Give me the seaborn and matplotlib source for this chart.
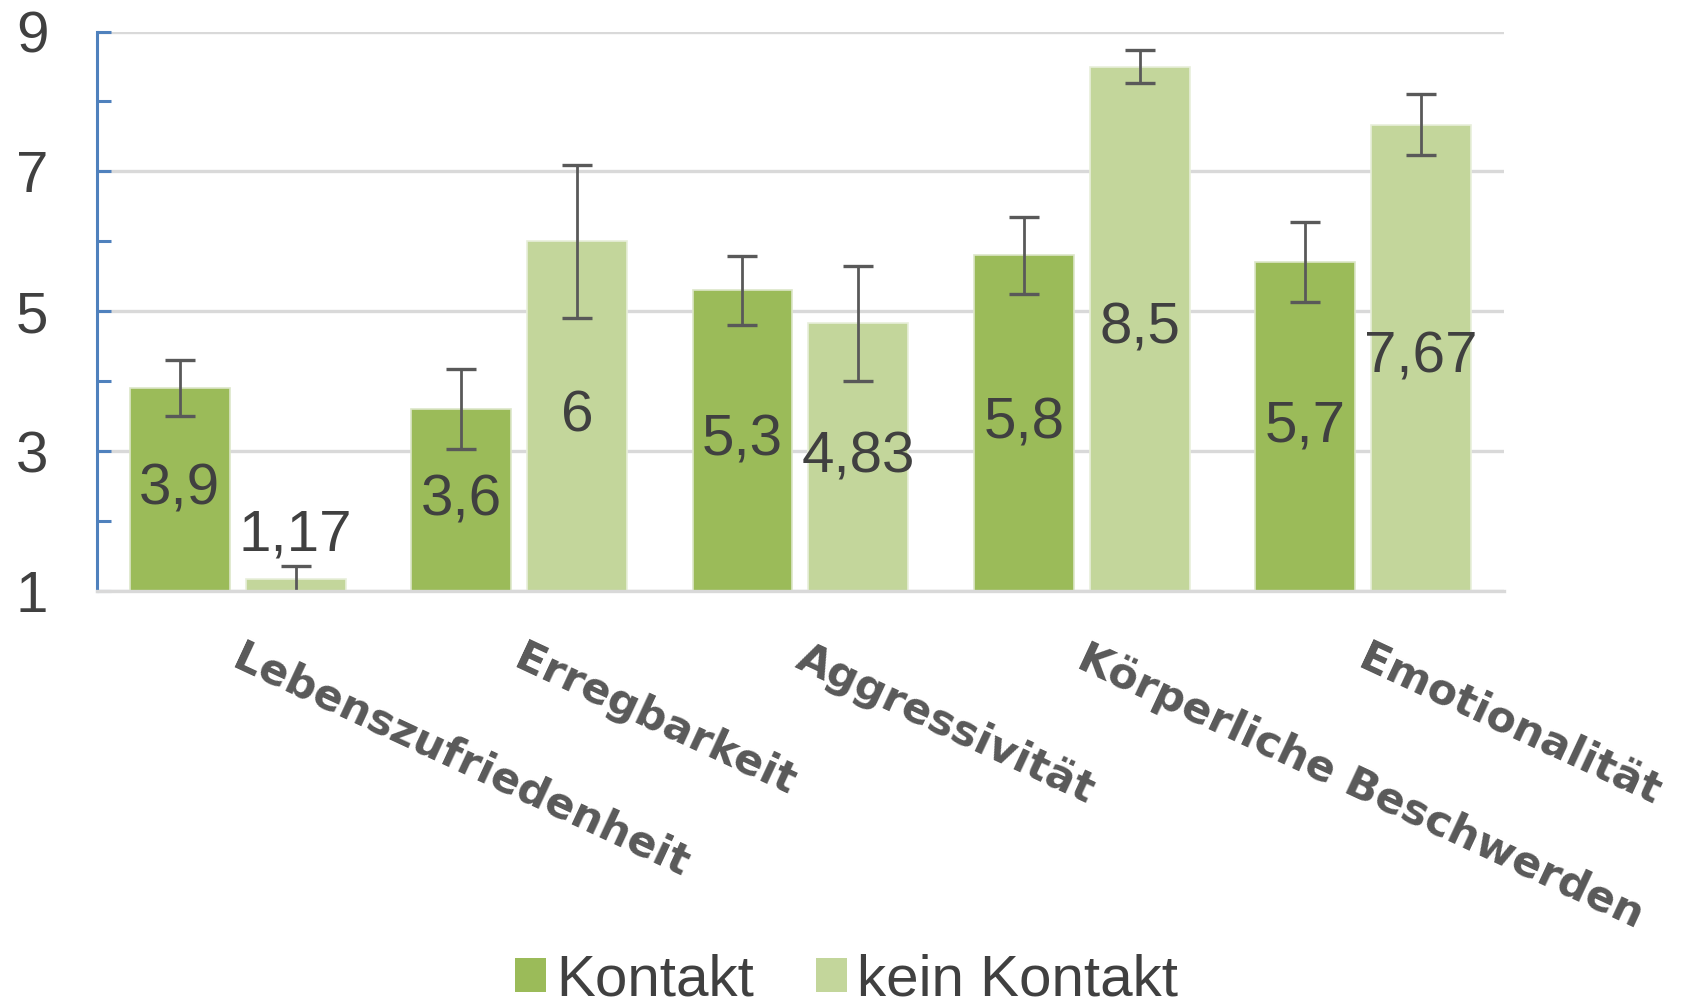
import numpy as np
import pandas as pd
import matplotlib
matplotlib.use("Agg")
import matplotlib.pyplot as plt
import matplotlib.transforms as mtransforms
import seaborn as sns

# ---- data ----
categories = ["Lebenszufriedenheit", "Erregbarkeit", "Aggressivität",
              "Körperliche Beschwerden", "Emotionalität"]
series_names = ["Kontakt", "kein Kontakt"]
kontakt = [3.9, 3.6, 5.3, 5.8, 5.7]
kein_kontakt = [1.17, 6.0, 4.83, 8.5, 7.67]
kontakt_err = [0.40, 0.57, 0.49, 0.55, 0.57]
kein_kontakt_err = [0.19, 1.09, 0.82, 0.23, 0.43]
y_ticks = [1, 3, 5, 7, 9]
y_minor = [2, 4, 6, 8]

colors = ["#9BBB59", "#C3D69B"]
edge_colors = ["#DCE6C8", "#E8EFDA"]

sns.set_theme(style="white")
plt.rcParams["font.family"] = ["Liberation Sans", "DejaVu Sans"]

df = pd.DataFrame({
    "Kategorie": categories * 2,
    "Wert": kontakt + kein_kontakt,
    "Gruppe": [series_names[0]] * len(categories) + [series_names[1]] * len(categories),
})

fig = plt.figure(figsize=(16.83, 10.08), dpi=100)
ax = fig.add_axes([0.0576, 0.4137, 0.8360, 0.5550])

sns.barplot(data=df, x="Kategorie", y="Wert", hue="Gruppe", order=categories,
            hue_order=series_names, palette=colors, saturation=1,
            width=0.824, gap=0.139, errorbar=None, ax=ax, legend=True)

ax.set_xlabel("")
ax.set_ylabel("")

# bar edges
for cont, ec in zip(ax.containers, edge_colors):
    for p in cont:
        p.set_edgecolor(ec)
        p.set_linewidth(1.2)

# error bars and value labels
ax.set_ylim(1, 9)
errs = [kontakt_err, kein_kontakt_err]
vals = [kontakt, kein_kontakt]
for cont, err, vv in zip(ax.containers, errs, vals):
    xs = [p.get_x() + p.get_width() / 2 for p in cont]
    ax.errorbar(xs, vv, yerr=err, fmt="none", ecolor="#595959",
                elinewidth=2.0, capsize=11, capthick=2.4, zorder=2)
    for x, v in zip(xs, vv):
        txt = f"{v:g}".replace(".", ",")
        lo = 1
        if v - lo < 0.5:
            y = v + 0.62
        else:
            y = (lo + v) / 2
        ax.text(x, y, txt, ha="center", va="center", fontsize=42,
                color="#404040", zorder=3)

ax.set_xlim(-0.5, len(categories) - 0.5)
ax.set_ylim(1, 9)

# axes styling
ax.set_yticks(y_ticks)
ax.set_yticklabels([str(t) for t in y_ticks])
ax.set_yticks(y_minor, minor=True)
ax.yaxis.grid(True, which="major", color="#D9D9D9", linewidth=2.4)
ax.xaxis.grid(False)
ax.set_axisbelow(True)
for s in ["top", "right"]:
    ax.spines[s].set_visible(False)
ax.spines["left"].set_color("#4F81BD")
ax.spines["left"].set_linewidth(2.2)
ax.spines["bottom"].set_color("#D9D9D9")
ax.spines["bottom"].set_linewidth(2.4)

ax.tick_params(axis="y", which="both", direction="in", length=10, width=2.2,
               color="#4F81BD", labelsize=42, labelcolor="#404040", pad=35,
               left=True)
ax.tick_params(axis="x", length=0, pad=33)

ax.set_xticks(range(len(categories)))
ax.set_xticklabels(categories, rotation=-25, ha="left", va="top",
                   rotation_mode="anchor", fontsize=31, fontweight="bold",
                   color="#595959", family="DejaVu Sans")
offset = mtransforms.ScaledTranslation(7 / 100, 0, fig.dpi_scale_trans)
for lbl in ax.get_xticklabels():
    lbl.set_transform(lbl.get_transform() + offset)

# legend
sns.move_legend(ax, "center", bbox_to_anchor=(0.503, 0.027),
                bbox_transform=fig.transFigure, ncol=2, title=None,
                frameon=False, fontsize=42, handlelength=0.53,
                handleheight=0.53, handletextpad=0.18, columnspacing=1.05,
                borderpad=0)
leg = ax.get_legend()
for t in leg.get_texts():
    t.set_color("#404040")
for h in leg.legend_handles:
    h.set_edgecolor("none")

fig.savefig("out.png", dpi=100)
